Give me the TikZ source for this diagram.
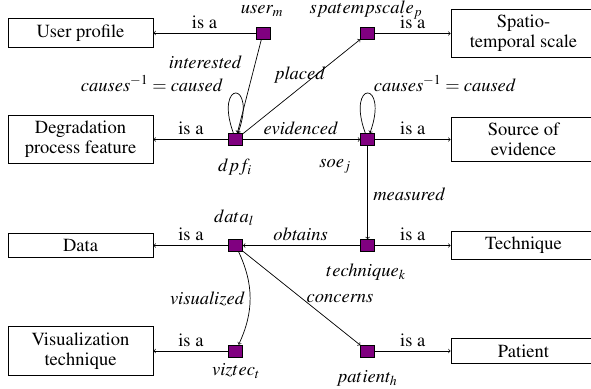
\documentclass[tikz,border=0pt]{standalone}
\usepackage[T1]{fontenc}
\usepackage{mathptmx}
\definecolor{purp}{RGB}{128,0,128}
\begin{document}
\begin{tikzpicture}[x=1pt,y=1pt,
  font=\rmfamily\fontsize{18.5}{20}\selectfont,
  box/.style={draw, line width=0.8pt, minimum width=145pt, align=center, inner sep=6pt},
  sq/.style={draw, fill=purp, minimum width=14pt, minimum height=12pt, inner sep=0pt, line width=0.6pt},
  arr/.style={->, line width=0.7pt},
  lbl/.style={font=\rmfamily\fontsize{18.5}{20}\selectfont\itshape, inner sep=0pt},
  isa/.style={midway, above, inner sep=4pt}]
\clip (0,0) rectangle (591,-388);
\useasboundingbox (0,0) rectangle (591,-388);
% boxes
\node[box] (up) at (80.5,-33) {User profile};
\node[box] (deg) at (80.5,-139.5) {Degradation\\process feature};
\node[box] (databox) at (80.5,-245.5) {Data};
\node[box] (vizbox) at (80.5,-351) {Visualization\\technique};
\node[box] (sts) at (523.5,-33.5) {Spatio-\\temporal scale};
\node[box] (soev) at (523.5,-139.5) {Source of\\evidence};
\node[box] (techbox) at (523.5,-245.5) {Technique};
\node[box] (patbox) at (523.5,-351) {Patient};
% squares
\node[sq] (user) at (263,-33) {};
\node[sq] (dpf) at (235.7,-139.5) {};
\node[sq] (spat) at (367.6,-33.5) {};
\node[sq] (soe) at (367.6,-139.5) {};
\node[sq] (tech) at (367.6,-245.5) {};
\node[sq] (data) at (235.7,-245.5) {};
\node[sq] (viz) at (235.7,-351) {};
\node[sq] (pat) at (367.6,-351) {};
% square labels
\node[lbl] (luser) at (262,-11) {$user_m$};
\node[lbl] (lspat) at (366,-10) {$spatempscale_p$};
\node[lbl] (ldpf) at (235,-167) {$dpf_i$};
\node[lbl] (lsoe) at (335,-166) {$soe_j$};
\node[lbl] (ldata) at (234,-218) {$data_l$};
\node[lbl] (ltech) at (366,-272) {$technique_k$};
\node[lbl] (lviz) at (236,-371) {$viztec_t$};
\node[lbl] (lpat) at (367,-378) {$patient_h$};
% edge labels
\node[lbl] (linter) at (205,-62.5) {interested};
\node[lbl] (lcl) at (152,-83.5) {$causes^{-1} = caused$};
\node[lbl] (lcr) at (445,-83.5) {$causes^{-1} = caused$};
\node[lbl] (lplaced) at (300,-75) {placed};
\node[lbl] (levid) at (300.5,-128) {evidenced};
\node[lbl] (lmeas) at (409,-194) {measured};
\node[lbl] (lobt) at (300.5,-234) {obtains};
\node[lbl] (lvis) at (207,-299) {visualized};
\node[lbl] (lconc) at (340,-299) {concerns};
% connectors
\draw[arr] (user) -- node[isa] {is a} (up);
\draw[arr] (dpf) -- node[isa] {is a} (deg);
\draw[arr] (data) -- node[isa] {is a} (databox);
\draw[arr] (viz) -- node[isa] {is a} (vizbox);
\draw[arr] (spat) -- node[isa] {is a} (sts);
\draw[arr] (soe) -- node[isa] {is a} (soev);
\draw[arr] (tech) -- node[isa] {is a} (techbox);
\draw[arr] (pat) -- node[isa] {is a} (patbox);
\draw[arr] (user) -- (dpf);
\draw[arr] (dpf) -- (spat);
\draw[arr] (dpf) -- (soe);
\draw[arr] (soe) -- (tech);
\draw[arr] (tech) -- (data);
\draw[arr] (data) to[bend left=25] (viz);
\draw[arr] (data) -- (pat);
\draw[arr] (dpf) to[out=110,in=70,min distance=57pt] (dpf);
\draw[arr] (soe) to[out=110,in=70,min distance=57pt] (soe);
\end{tikzpicture}
\end{document}
